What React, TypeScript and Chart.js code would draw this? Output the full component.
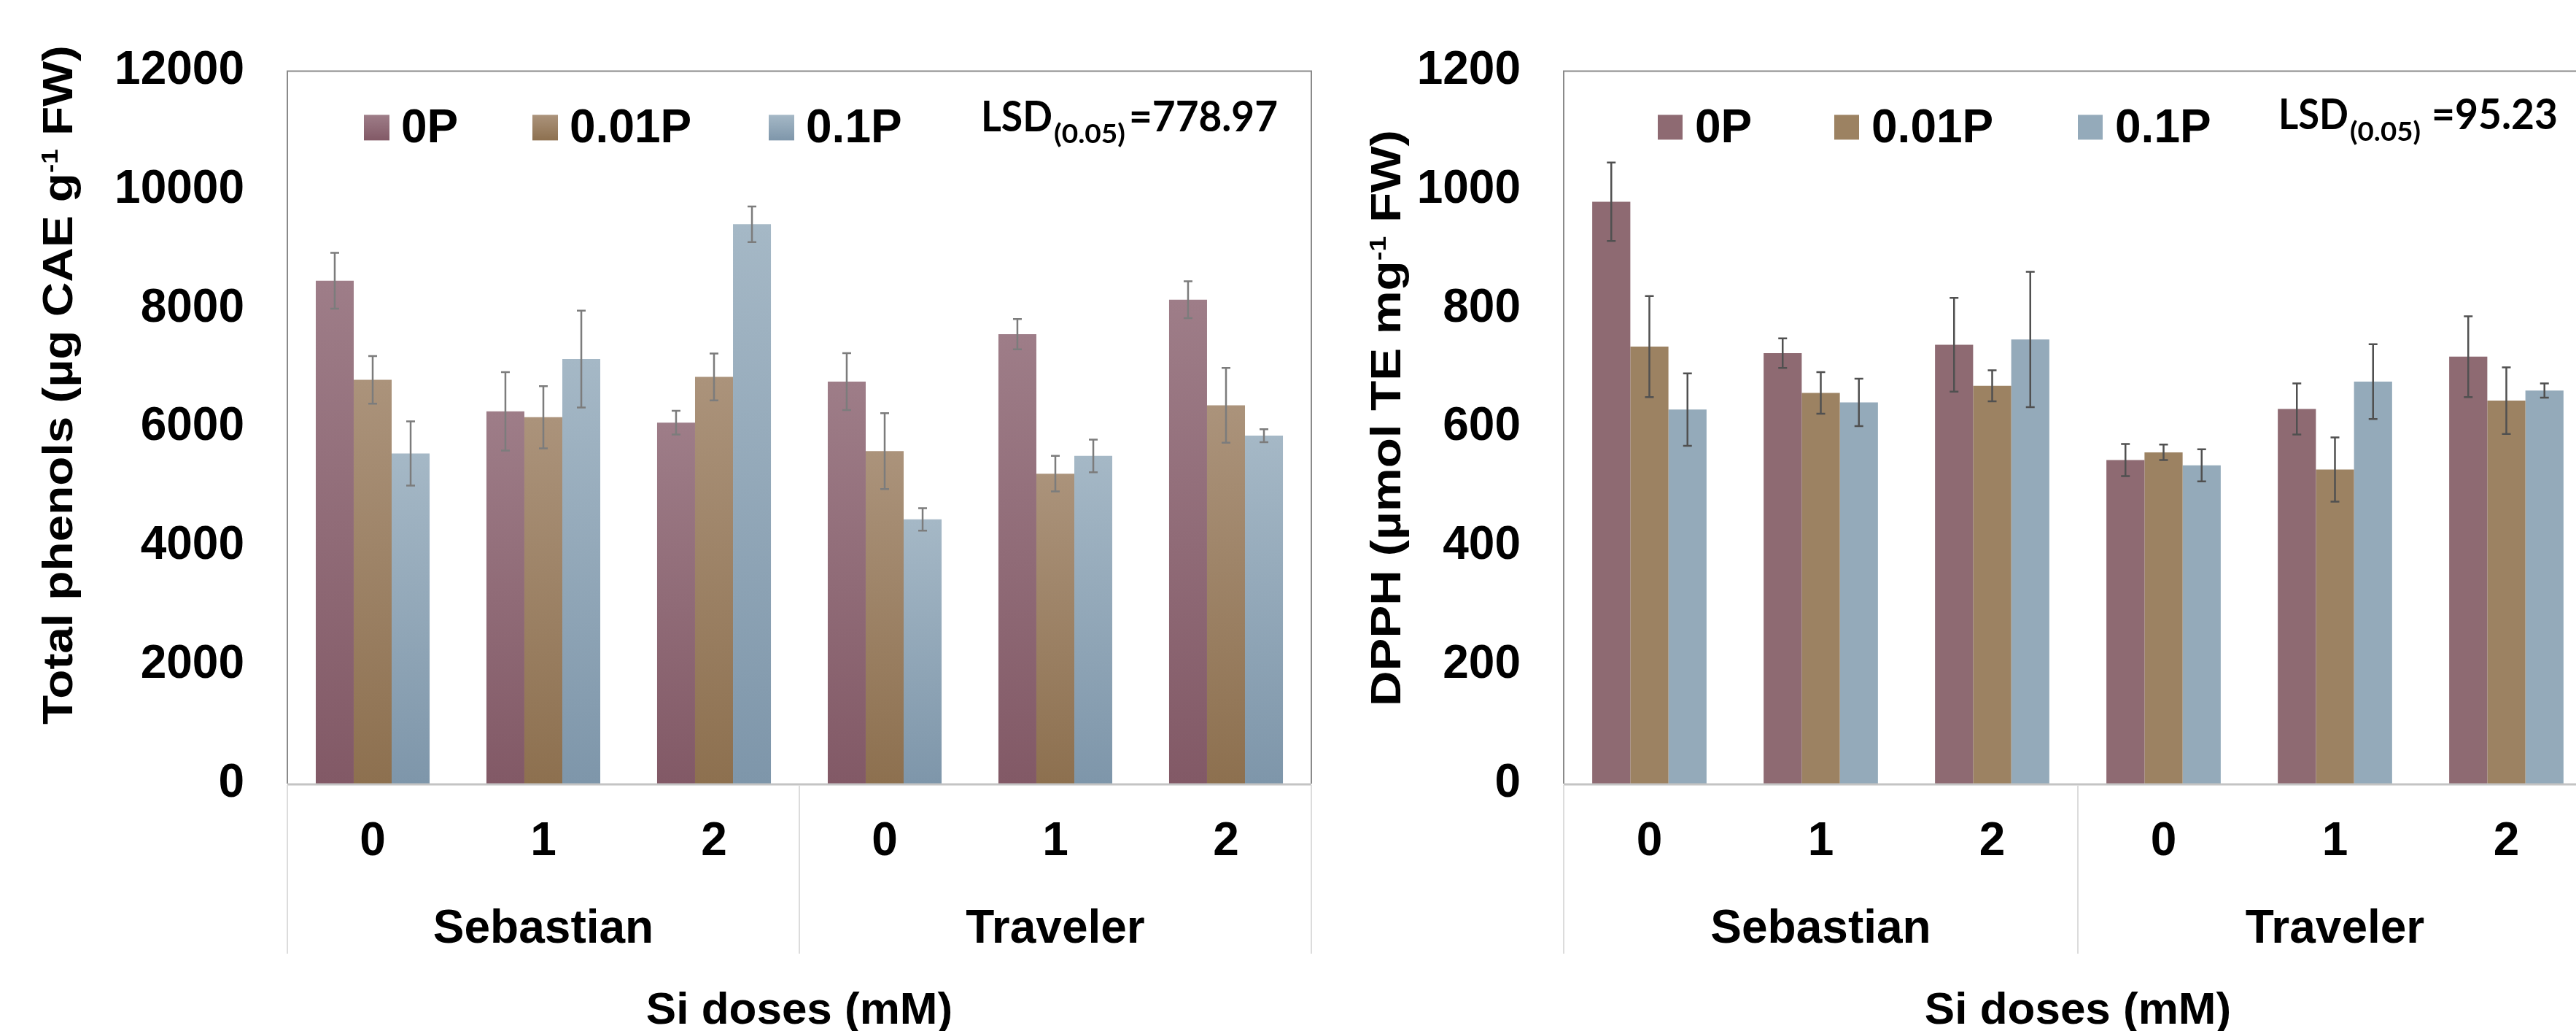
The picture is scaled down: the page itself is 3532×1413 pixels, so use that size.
import React, { useEffect, useRef } from 'react';
import { Chart, registerables } from 'chart.js';

Chart.register(...registerables);

// ---------- data ----------
const siDoseLabels = ['0', '1', '2', '0', '1', '2'];
const cultivarLabels = ['Sebastian', 'Traveler'];
const seriesNames = ['0P', '0.01P', '0.1P'];

const phenols0P = [8470, 6270, 6080, 6770, 7570, 8150];
const phenols001P = [6800, 6170, 6850, 5600, 5220, 6370];
const phenols01P = [5560, 7150, 9420, 4450, 5520, 5860];
const phenolsErr0P = [470, 660, 200, 480, 255, 310];
const phenolsErr001P = [400, 525, 395, 640, 300, 630];
const phenolsErr01P = [540, 815, 300, 190, 275, 110];

const dpph0P = [980, 725, 739, 545, 631, 719];
const dpph001P = [736, 658, 670, 558, 529, 645];
const dpph01P = [630, 642, 748, 536, 677, 662];
const dpphErr0P = [66, 25, 79, 27, 43, 68];
const dpphErr001P = [85, 35, 26, 13, 54, 56];
const dpphErr01P = [61, 40, 114, 27, 63, 12];

const phenolsAxisMax = 12000;
const phenolsAxisStep = 2000;
const dpphAxisMax = 1200;
const dpphAxisStep = 200;

const phenolsLSD = '=778.97';
const dpphLSD = '=95.23';
const xAxisTitle = 'Si doses (mM)';

// ---------- styles ----------
const FONT = "'Liberation Sans', Arial, sans-serif";
const LSD_FONT = "Lato, 'Open Sans', sans-serif";

const leftCfg = {
  canvasLeft: 0,
  canvasWidth: 1840,
  yAxisWidth: 394,
  top: 75,
  rightPad: 42,
  ymax: phenolsAxisMax,
  ystep: phenolsAxisStep,
  values: [phenols0P, phenols001P, phenols01P],
  errors: [phenolsErr0P, phenolsErr001P, phenolsErr01P],
  colorsTop: ['#9e7d88', '#ab937b', '#a5b8c6'],
  colorsBottom: ['#825966', '#8d704f', '#7e96aa'],
  gradient: true,
  errColor: '#7c7c7c',
  legendX: [105, 336, 660],
  legendSize: 35,
  legendMarkerDy: 60,
  legendBaseDy: 98,
  lsdValue: phenolsLSD,
  lsdX: [951, 1051, 1154],
  lsdW: [98, 98, 204],
  lsdBaseDy: 83,
  lsdSubDy: 99,
  title: ['Total phenols (µg CAE g', '-1', ' FW)'],
  titleBaseX: 99,
  titleStartY: 993,
  titleLength: 931,
  rightBorder: true,
};

const rightCfg = {
  canvasLeft: 1840,
  canvasWidth: 1740,
  yAxisWidth: 304,
  top: 84,
  rightPad: 26,
  ymax: dpphAxisMax,
  ystep: dpphAxisStep,
  values: [dpph0P, dpph001P, dpph01P],
  errors: [dpphErr0P, dpphErr001P, dpphErr01P],
  colorsTop: ['#8e6a72', '#9c8262', '#94aaba'],
  colorsBottom: ['#8e6a72', '#9c8262', '#94aaba'],
  gradient: false,
  errColor: '#505050',
  legendX: [129, 371, 705],
  legendSize: 34,
  legendMarkerDy: 60,
  legendBaseDy: 98,
  lsdValue: dpphLSD,
  lsdX: [980, 1078, 1190],
  lsdW: [96, 97, 173],
  lsdBaseDy: 80,
  lsdSubDy: 96,
  title: ['DPPH (µmol TE mg', '-1', ' FW)'],
  titleBaseX: 80,
  titleStartY: 968,
  titleLength: 790,
  rightBorder: true,
};

function fitText(ctx: CanvasRenderingContext2D, text: string, x: number, y: number, w: number, font: string) {
  ctx.save();
  ctx.font = font;
  ctx.textAlign = 'left';
  ctx.textBaseline = 'alphabetic';
  const m = ctx.measureText(text).width;
  ctx.translate(x, y);
  ctx.scale(w / m, 1);
  ctx.fillText(text, 0, 0);
  ctx.restore();
}

function makePlugin(cfg: any) {
  return {
    id: 'decor',
    afterDatasetsDraw(chart: any) {
      const ctx: CanvasRenderingContext2D = chart.ctx;
      const a = chart.chartArea;
      const xs = chart.scales.x;
      const ys = chart.scales.y;
      ctx.save();

      // error bars
      chart.data.datasets.forEach((ds: any, di: number) => {
        const meta = chart.getDatasetMeta(di);
        meta.data.forEach((bar: any, i: number) => {
          const v = ds.data[i];
          const e = cfg.errors[di][i];
          const x = bar.x;
          const y1 = ys.getPixelForValue(v + e);
          const y2 = ys.getPixelForValue(v - e);
          ctx.strokeStyle = cfg.errColor;
          ctx.lineWidth = 2.5;
          ctx.beginPath();
          ctx.moveTo(x, y1);
          ctx.lineTo(x, y2);
          ctx.moveTo(x - 6, y1);
          ctx.lineTo(x + 6, y1);
          ctx.moveTo(x - 6, y2);
          ctx.lineTo(x + 6, y2);
          ctx.stroke();
        });
      });

      // plot border
      ctx.strokeStyle = '#8a8a8a';
      ctx.lineWidth = 2;
      ctx.beginPath();
      ctx.moveTo(a.left, a.bottom);
      ctx.lineTo(a.left, a.top);
      ctx.lineTo(a.right, a.top);
      if (cfg.rightBorder) ctx.lineTo(a.right, a.bottom);
      ctx.stroke();
      // axis line
      ctx.strokeStyle = '#c4c4c4';
      ctx.lineWidth = 3;
      ctx.beginPath();
      ctx.moveTo(a.left, a.bottom + 1);
      ctx.lineTo(a.right, a.bottom + 1);
      ctx.stroke();

      // category box lines
      const boxBottom = 1307;
      const mid = (xs.getPixelForValue(2) + xs.getPixelForValue(3)) / 2;
      ctx.strokeStyle = '#dcdcdc';
      ctx.lineWidth = 2;
      ctx.beginPath();
      [a.left, mid, a.right].forEach((x) => {
        ctx.moveTo(x, a.bottom + 2);
        ctx.lineTo(x, boxBottom);
      });
      ctx.stroke();

      // group labels
      ctx.fillStyle = '#000';
      ctx.font = `bold 64px ${FONT}`;
      ctx.textAlign = 'center';
      ctx.textBaseline = 'alphabetic';
      cultivarLabels.forEach((lab, gi) => {
        const x = xs.getPixelForValue(gi * 3 + 1);
        ctx.fillText(lab, x, 1292);
      });
      // axis title
      ctx.font = `bold 62px ${FONT}`;
      ctx.fillText(xAxisTitle, (a.left + a.right) / 2, 1403);

      // legend
      seriesNames.forEach((name, si) => {
        const mx = a.left + cfg.legendX[si];
        const my = a.top + cfg.legendMarkerDy;
        const s = cfg.legendSize;
        if (cfg.gradient) {
          const g = ctx.createLinearGradient(0, my, 0, my + s);
          g.addColorStop(0, cfg.colorsTop[si]);
          g.addColorStop(1, cfg.colorsBottom[si]);
          ctx.fillStyle = g;
        } else {
          ctx.fillStyle = cfg.colorsTop[si];
        }
        ctx.fillRect(mx, my, s, s);
        ctx.fillStyle = '#000';
        ctx.font = `bold 64px ${FONT}`;
        ctx.textAlign = 'left';
        ctx.fillText(name, mx + 51, a.top + cfg.legendBaseDy);
      });

      // LSD text
      ctx.fillStyle = '#000';
      fitText(ctx, 'LSD', a.left + cfg.lsdX[0], a.top + cfg.lsdBaseDy, cfg.lsdW[0], `bold 57px ${LSD_FONT}`);
      fitText(ctx, '(0.05)', a.left + cfg.lsdX[1], a.top + cfg.lsdSubDy, cfg.lsdW[1], `bold 37px ${LSD_FONT}`);
      fitText(ctx, cfg.lsdValue, a.left + cfg.lsdX[2], a.top + cfg.lsdBaseDy, cfg.lsdW[2], `bold 57px ${LSD_FONT}`);

      // y axis title (rotated, with superscript)
      ctx.save();
      ctx.translate(cfg.titleBaseX, cfg.titleStartY);
      ctx.rotate(-Math.PI / 2);
      const mainFont = `bold 57px ${FONT}`;
      const supFont = `bold 32px ${FONT}`;
      ctx.font = mainFont;
      const w0 = ctx.measureText(cfg.title[0]).width;
      const w2 = ctx.measureText(cfg.title[2]).width;
      ctx.font = supFont;
      const w1 = ctx.measureText(cfg.title[1]).width;
      const total = w0 + w1 + w2;
      ctx.scale(cfg.titleLength / total, 1);
      ctx.textAlign = 'left';
      ctx.textBaseline = 'alphabetic';
      ctx.fillStyle = '#000';
      ctx.font = mainFont;
      ctx.fillText(cfg.title[0], 0, 0);
      ctx.font = supFont;
      ctx.fillText(cfg.title[1], w0, -20);
      ctx.font = mainFont;
      ctx.fillText(cfg.title[2], w0 + w1, 0);
      ctx.restore();

      ctx.restore();
    },
  };
}

function buildChart(canvas: HTMLCanvasElement, cfg: any) {
  const datasets = seriesNames.map((name, si) => ({
    label: name,
    data: cfg.values[si],
    categoryPercentage: 0.667,
    barPercentage: 1.0,
    borderWidth: 0,
    backgroundColor: (c: any) => {
      const chart = c.chart;
      if (!cfg.gradient || !chart.chartArea || c.type !== 'data') return cfg.colorsTop[si];
      const ys = chart.scales.y;
      const top = ys.getPixelForValue(c.raw);
      const bot = ys.getPixelForValue(0);
      const g = chart.ctx.createLinearGradient(0, top, 0, bot);
      g.addColorStop(0, cfg.colorsTop[si]);
      g.addColorStop(1, cfg.colorsBottom[si]);
      return g;
    },
  }));
  return new Chart(canvas, {
    type: 'bar',
    data: { labels: siDoseLabels, datasets },
    options: {
      responsive: false,
      maintainAspectRatio: false,
      animation: false,
      layout: { padding: { left: 0, top: cfg.top, right: cfg.rightPad, bottom: 0 } },
      plugins: { legend: { display: false }, tooltip: { enabled: false } },
      scales: {
        x: {
          grid: { display: false, drawTicks: false },
          border: { display: false },
          ticks: {
            color: '#000',
            padding: 42,
            font: { family: FONT, size: 64, weight: 'bold', lineHeight: 1.2 },
            maxRotation: 0,
            autoSkip: false,
          },
          afterFit: (s: any) => {
            s.height = 1413 - 1074;
          },
        },
        y: {
          min: 0,
          max: cfg.ymax,
          grid: { display: false, drawTicks: false },
          border: { display: false },
          ticks: {
            stepSize: cfg.ystep,
            color: '#000',
            padding: 59,
            font: { family: FONT, size: 64, weight: 'bold', lineHeight: 1.2 },
            callback: (v: any) => String(v),
          },
          afterFit: (s: any) => {
            s.width = cfg.yAxisWidth;
          },
        },
      },
    } as any,
    plugins: [makePlugin(cfg)],
  });
}

export default function App() {
  const leftRef = useRef<HTMLCanvasElement>(null);
  const rightRef = useRef<HTMLCanvasElement>(null);

  useEffect(() => {
    const c1 = buildChart(leftRef.current!, leftCfg);
    const c2 = buildChart(rightRef.current!, rightCfg);
    return () => {
      c1.destroy();
      c2.destroy();
    };
  }, []);

  return (
    <div
      style={{
        position: 'fixed',
        left: 0,
        top: 0,
        width: 3532,
        height: 1413,
        overflow: 'hidden',
        background: '#fff',
      }}
    >
      <canvas
        ref={leftRef}
        width={leftCfg.canvasWidth}
        height={1413}
        style={{ position: 'absolute', left: leftCfg.canvasLeft, top: 0, width: leftCfg.canvasWidth, height: 1413 }}
      />
      <canvas
        ref={rightRef}
        width={rightCfg.canvasWidth}
        height={1413}
        style={{ position: 'absolute', left: rightCfg.canvasLeft, top: 0, width: rightCfg.canvasWidth, height: 1413 }}
      />
    </div>
  );
}
